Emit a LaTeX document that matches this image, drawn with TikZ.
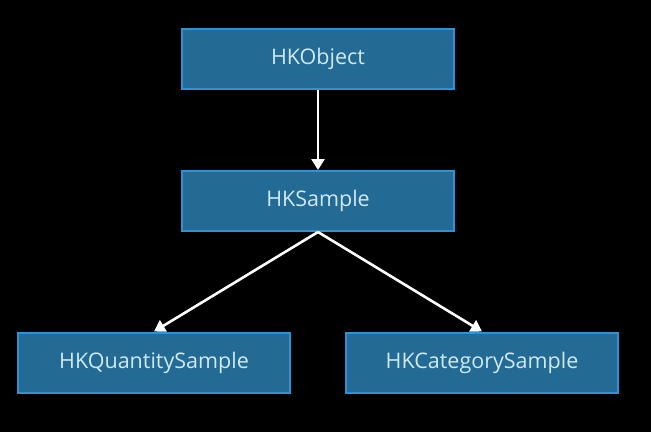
\documentclass[tikz,border=0pt]{standalone}
\usepackage{fontspec}
\setmainfont{Open Sans}
\usetikzlibrary{arrows.meta}
\definecolor{boxfill}{HTML}{236A94}
\definecolor{boxline}{HTML}{2E93D6}
\definecolor{boxtext}{HTML}{CFEAF2}
\tikzset{
  cls/.style={draw=boxline, line width=2pt, fill=boxfill, text=boxtext,
    minimum width=272pt, minimum height=60pt, inner sep=0pt,
    font=\fontsize{21.5}{24}\selectfont},
  link/.style={draw=white, line width=2.6pt, -{Triangle[length=11pt,width=13pt]}}
}
\begin{document}
\begin{tikzpicture}[x=1pt,y=-1pt]
\fill[black] (0,0) rectangle (651,432);
\useasboundingbox (0,0) rectangle (651,432);
\node[cls] (obj) at (318,59) {HKObject};
\node[cls] (smp) at (318,201) {HKSample};
\node[cls] (qty) at (154,362.5) {HKQuantitySample};
\node[cls] (cat) at (482,362.5) {HKCategorySample};
\draw[link] (obj.south) -- (smp.north);
\draw[link] (smp.south) -- (qty.north);
\draw[link] (smp.south) -- (cat.north);
\end{tikzpicture}
\end{document}
